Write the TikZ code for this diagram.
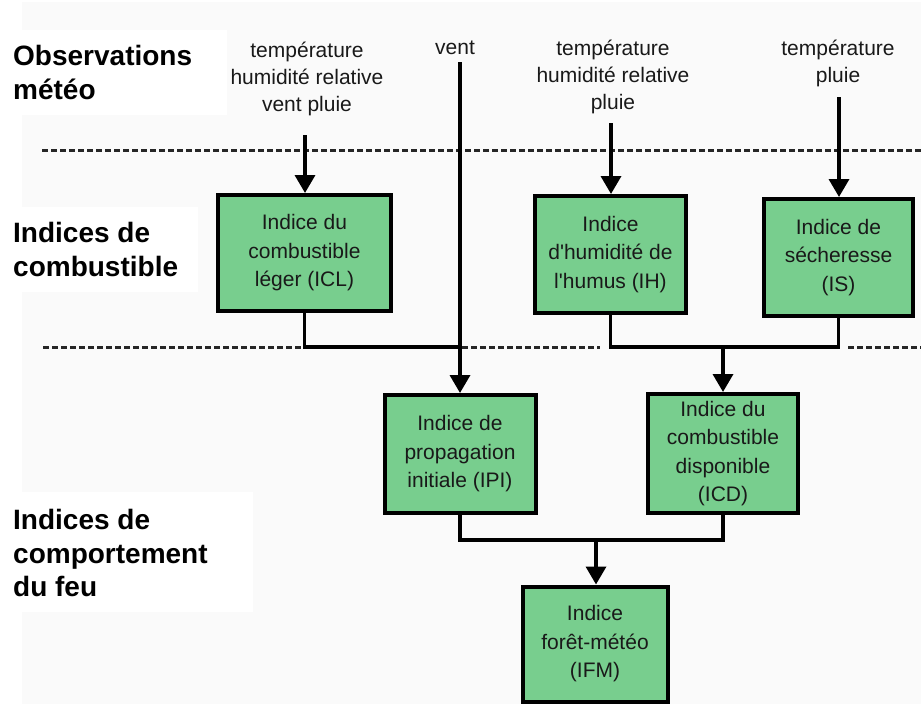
\documentclass[tikz,border=0pt]{standalone}
\usepackage{fontspec}
\setmainfont{Liberation Sans}[Ligatures=TeXOff]
\usetikzlibrary{arrows.meta}
\definecolor{boxgreen}{HTML}{78CE8E}
\definecolor{bggray}{HTML}{FAFAFA}
\tikzset{
  idx/.style={draw=black, line width=4pt, fill=boxgreen, inner sep=0pt, align=center,
    font=\fontsize{21}{28.5}\selectfont, text=black!90},
  obs/.style={inner sep=0pt, align=center, anchor=north, font=\fontsize{21}{27}\selectfont, text=black!90},
  cat/.style={inner sep=0pt, align=left, anchor=north west, font=\bfseries\fontsize{28}{33.5}\selectfont},
  flow/.style={line width=3.5pt, line join=miter},
  arr/.style={flow, -{Triangle[width=20pt,length=18pt]}},
  sep/.style={line width=3pt, dash pattern=on 6pt off 3pt, color=black!85},
}
\begin{document}
\begin{tikzpicture}[x=1pt,y=-1pt]
\useasboundingbox (0,0) rectangle (921,704);
\fill[white] (0,0) rectangle (921,704);
\fill[bggray] (22,2) rectangle (921,704);
% white label panels
\fill[white] (0,30) rectangle (227,115);
\fill[white] (0,207) rectangle (198,292);
\fill[white] (0,492) rectangle (253,612);
% category labels
\node[cat] (cat1) at (13,45.5) {Observations\\météo};
\node[cat] (cat2) at (13,222.5) {Indices de\\combustible};
\node[cat] (cat3) at (13,509.5) {Indices de\\comportement\\du feu};
% dashed separators
\draw[sep] (42,150) -- (921,150);
\draw[sep] (43,347) -- (303,347);
\draw[sep] (462,347) -- (600,347);
\draw[sep] (848,347) -- (921,347);
% observation texts
\node[obs] (obs1) at (307,42) {température\\humidité relative\\vent pluie};
\node[obs] (vent) at (455,41) {vent};
\node[obs] (obs3) at (613,40) {température\\humidité relative\\pluie};
\node[obs] (obs4) at (838,40) {température\\pluie};
% index boxes
\node[idx, minimum width=173, minimum height=116] (icl) at (304.5,253) {Indice du\\combustible\\léger (ICL)};
\node[idx, minimum width=151, minimum height=117] (ih) at (610.5,254.5) {Indice\\d'humidité de\\l'humus (IH)};
\node[idx, minimum width=149, minimum height=117] (is) at (838.5,257.5) {Indice de\\sécheresse\\(IS)};
\node[idx, minimum width=151, minimum height=118] (ipi) at (460,454) {Indice de\\propagation\\initiale (IPI)};
\node[idx, minimum width=150, minimum height=119] (icd) at (723,453.5) {Indice du\\combustible\\disponible\\(ICD)};
\node[idx, minimum width=145, minimum height=115] (ifm) at (595,644) {Indice\\forêt-météo\\(IFM)};
% connector points
\coordinate (s1) at (305,135);
\coordinate (s3) at (611,123);
\coordinate (s4) at (839,97);
\coordinate (v0) at (460,62);
\coordinate (j1) at (460,347);
\coordinate (j2) at (723,347);
\coordinate (j3) at (596,540);
% connectors
\draw[arr] (s1) -- (s1 |- icl.north);
\draw[arr] (s3) -- (s3 |- ih.north);
\draw[arr] (s4) -- (s4 |- is.north);
\draw[arr] (v0) -- (v0 |- ipi.north);
\draw[flow] (icl.south) |- (j1);
\draw[flow] (ih.south) -- (ih.south |- j2) -- (is.south |- j2) -- (is.south);
\draw[arr] (j2) -- (icd.north);
\draw[flow] (ipi.south) -- (ipi.south |- j3) -- (icd.south |- j3) -- (icd.south);
\draw[arr] (j3) -- (j3 |- ifm.north);
\end{tikzpicture}
\end{document}
